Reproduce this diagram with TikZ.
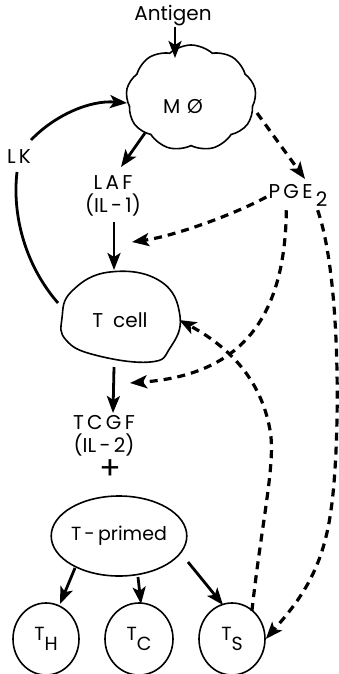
\documentclass[tikz,border=0pt]{standalone}
\usepackage{fontspec}
\setmainfont{Poppins}
\usetikzlibrary{arrows.meta,shapes.symbols,shapes.geometric}
\begin{document}
\begin{tikzpicture}[x=1pt,y=-1pt,
  lbl/.style={font=\fontsize{20}{23}\selectfont, inner sep=0pt, align=center},
  arr/.style={line width=2.8pt, -{Stealth[length=17pt,width=13pt,inset=4pt]}},
  darr/.style={line width=3.2pt, dash pattern=on 8pt off 6pt, -{Stealth[length=17pt,width=13pt,inset=4pt]}},
  outline/.style={line width=1.6pt},
  cell/.style={draw, outline, ellipse, inner sep=0pt, font=\fontsize{19}{20}\selectfont}]
\useasboundingbox (0,0) rectangle (338,674);

% nodes
\node[lbl] (ant) at (173,16) {Antigen};
\node[cloud, draw, outline, cloud puffs=9, cloud puff arc=85, minimum width=130pt, minimum height=106pt] (M) at (191,98) {};
\node[lbl] (mtxt) at (183,107) {M\,\,Ø};
\node[lbl] (lk) at (19,157) {L\,K};
\node[lbl] (laf) at (113,196) {L\,A\,F\\(IL\,-\,1)};
\node[lbl] (pge) at (298,195) {P\,G\,E\raisebox{-8pt}{\,2}};
\draw[outline] plot[smooth cycle, tension=0.75] coordinates {(62,318) (72,291) (110,272) (160,281) (180,316) (170,348) (150,362) (95,355) (66,340)};
\node[lbl, minimum width=118pt, minimum height=90pt] (tcell) at (120,320) {T\,\,\,cell};
\node[lbl] (tcgf) at (104,436) {T\,C\,G\,F\\(IL\,-\,2)};
\node[lbl, font=\fontsize{32}{32}\selectfont] (plus) at (110,470) {+};
\node[cell, minimum width=118pt, minimum height=80pt] (tp) at (119,536) {T\,-\,primed};
\node[cell, minimum width=66pt, minimum height=72pt] (th) at (46,639) {T\raisebox{-10pt}{H}};
\node[cell, minimum width=68pt, minimum height=72pt] (tc) at (139,639) {T\raisebox{-10pt}{C}};
\node[cell, minimum width=66pt, minimum height=72pt] (ts) at (232,639) {T\raisebox{-10pt}{S}};

% free ends
\coordinate (mtop) at (175,58);
\coordinate (mlaf) at (145,133);
\coordinate (lafin) at (121,167);
\coordinate (lafout) at (114,222);
\coordinate (tin) at (114,270);
\coordinate (tout) at (114,367);
\coordinate (tcgfin) at (113,413);
\coordinate (d1) at (132,242);
\coordinate (d2) at (130,383);
\coordinate (mpge) at (257,113);
\coordinate (pgein) at (305,179);
\coordinate (lkin) at (127,103);
\coordinate (lkout) at (58,303);
\coordinate (lklow) at (17,172);
\coordinate (lkhigh) at (31,140);
\coordinate (tpth) at (75,568);
\coordinate (thin) at (60,604);
\coordinate (tptc) at (138,577);
\coordinate (tcin) at (141,604);
\coordinate (tpts) at (188,562);
\coordinate (tsin) at (223,605);

% solid arrows
\draw[arr] (ant.south -| mtop) -- (mtop);
\draw[arr] (mlaf) -- (lafin);
\draw[arr] (lafout) -- (tin);
\draw[arr] (tout) -- (tcgfin);
\draw[arr] (tpth) -- (thin);
\draw[arr] (tptc) -- (tcin);
\draw[arr] (tpts) -- (tsin);

% LK loop
\draw[line width=2.8pt] (lkout) .. controls (25,265) and (12,215) .. (lklow);
\draw[arr] (lkhigh) .. controls (55,115) and (90,100) .. (lkin);

% dashed arrows
\draw[darr] (mpge) -- (pgein);
\draw[darr] (pge.west) ++(-2,2) .. controls (235,214) and (175,236) .. (d1);
\draw[darr] (pge.south west) ++(18,4) .. controls (285,320) and (240,375) .. (d2);
\draw[darr] (ts.north east) ++(-4,-2) .. controls (262,520) and (276,462) .. (270,430) .. controls (262,385) and (235,350) .. (tcell.east);
\draw[darr] (pge.south east) ++(-10,4) .. controls (342,280) and (340,450) .. (331,510) .. controls (323,570) and (300,600) .. (ts.east);
\end{tikzpicture}
\end{document}
